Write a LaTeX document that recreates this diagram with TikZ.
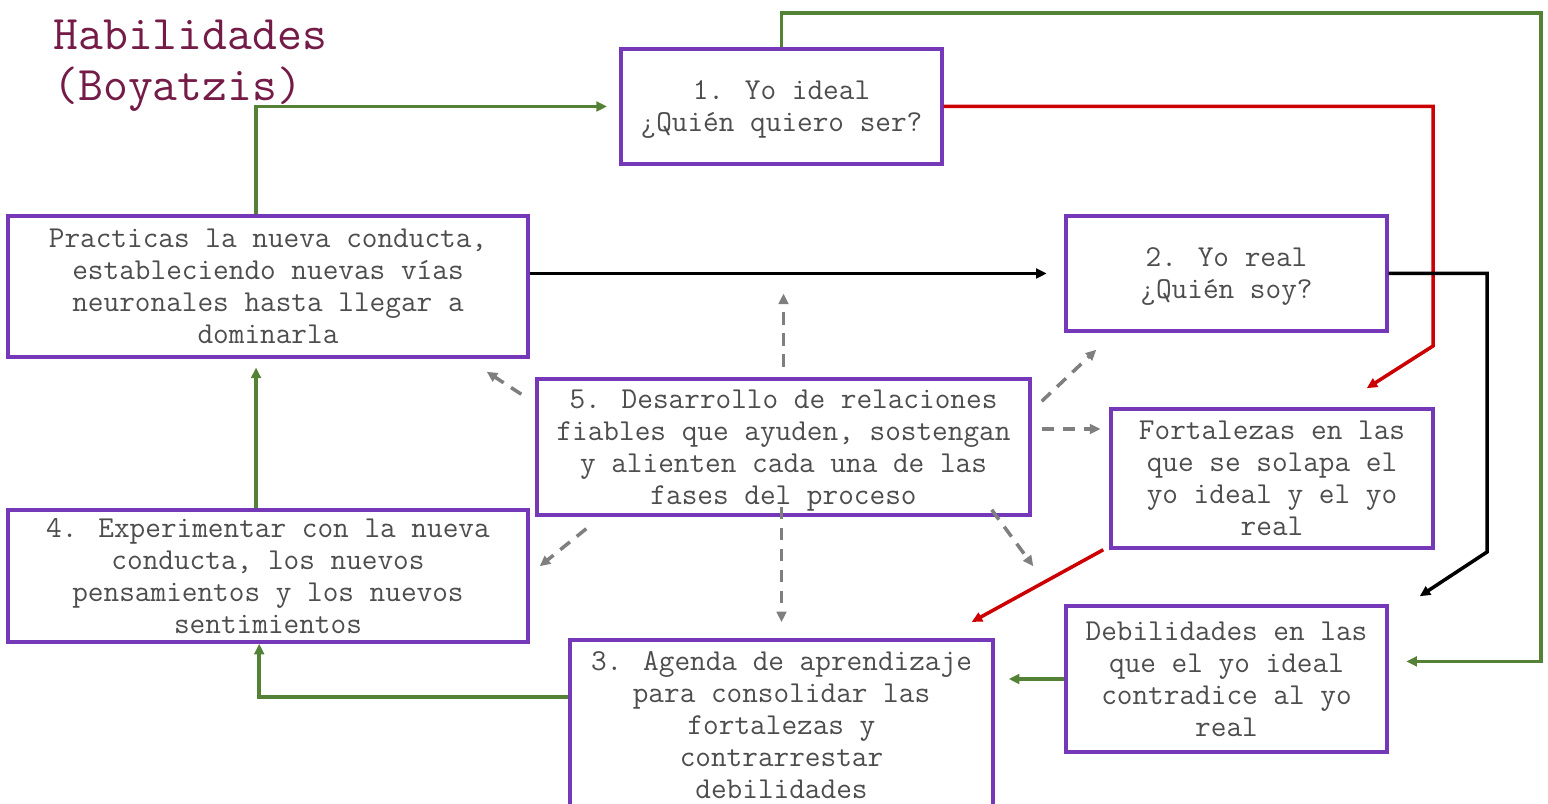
\documentclass[tikz,border=0pt]{standalone}
\usepackage{fontspec}
\usetikzlibrary{arrows.meta,calc}
\definecolor{morado}{HTML}{7538B8}
\definecolor{verdeosc}{HTML}{538135}
\definecolor{rojo}{HTML}{CC0000}
\definecolor{gris}{HTML}{7F7F7F}
\definecolor{tinta}{HTML}{4D4D4D}
\definecolor{ciruela}{HTML}{741B47}
\tikzset{
	caja/.style={draw=morado, line width=2pt, align=center, inner sep=0pt, text=tinta, text depth=0pt,
		font=\ttfamily\fontsize{17.3}{18.2}\selectfont},
	punta/.style={-{Triangle[length=6pt,width=5.5pt]}},
	verdeflecha/.style={draw=verdeosc, line width=2pt, punta},
	rojaflecha/.style={draw=rojo, line width=2pt, punta},
	negraflecha/.style={draw=black, line width=2pt, punta},
	punteada/.style={draw=gris, line width=2pt, dash pattern=on 7pt off 5pt, punta}
}
\begin{document}
\begin{tikzpicture}[x=0.02cm, y=0.02cm]
			\useasboundingbox (0,0) rectangle (1548,804);
			\node [anchor=north west, inner sep=0pt, align=left, text=ciruela,
				font=\ttfamily\fontsize{27.5}{29}\selectfont] (titulo) at (53,784) {Habilidades\\(Boyatzis)};
			\node [caja, minimum width=6.42cm, minimum height=2.3cm] (ideal) at (781.5,697.5) {1. Yo ideal\\¿Quién quiero ser?};
			\node [caja, minimum width=10.4cm, minimum height=2.82cm] (practica) at (268,517.5)
				{Practicas la nueva conducta,\\estableciendo nuevas vías\\neuronales hasta llegar a\\dominarla};
			\node [caja, minimum width=6.42cm, minimum height=2.3cm] (real) at (1226.5,530.5) {2. Yo real\\¿Quién soy?};
			\node [caja, minimum width=9.86cm, minimum height=2.72cm] (apoyo) at (783.5,357)
				{5. Desarrollo de relaciones\\fiables que ayuden, sostengan\\y alienten cada una de las\\fases del proceso};
			\node [caja, minimum width=6.44cm, minimum height=2.78cm] (fortaleza) at (1272,325.5)
				{Fortalezas en las\\que se solapa el\\yo ideal y el yo\\real};
			\node [caja, minimum width=10.4cm, minimum height=2.64cm] (experimento) at (268,228)
				{4. Experimentar con la nueva\\conducta, los nuevos\\pensamientos y los nuevos\\sentimientos};
			\node [caja, anchor=north, minimum width=8.46cm, inner ysep=6.5pt] (agenda) at (781.5,166)
				{3. Agenda de aprendizaje\\para consolidar las\\fortalezas y\\contrarrestar\\debilidades};
			\node [caja, minimum width=6.42cm, minimum height=2.92cm] (debilidad) at (1226.5,125)
				{Debilidades en las\\que el yo ideal\\contradice al yo\\real};
			\coordinate (giroV) at (1541,791);
			\coordinate (giroR) at (1433,458);
			\coordinate (giroN) at (1487,252);
			\coordinate (salidaA) at ($(agenda.north west)+(0,-59)$);
			\coordinate (salida5) at ($(apoyo.east)+(10,18)$);
			\draw [verdeflecha, shorten >=7pt] ([xshift=-6.8pt]practica.north) |- (ideal.west);
			\draw [verdeflecha, shorten >=10pt] (ideal.north) |- (giroV) |- ([yshift=10pt]debilidad.east);
			\draw [rojaflecha] (ideal.east) -| (giroR) -- ($(fortaleza.north east)+(-68,19)$);
			\draw [negraflecha, shorten >=10pt] (practica.east |- real.west) -- (real.west);
			\draw [negraflecha] (real.east) -| (giroN) -- ($(debilidad.north east)+(31,8)$);
			\draw [rojaflecha] ($(fortaleza.south west)+(-6,0)$) -- ($(agenda.north east)+(-23,16)$);
			\draw [verdeflecha, shorten >=8pt] (debilidad.west) -- (debilidad.west -| agenda.east);
			\draw [verdeflecha] (salidaA) -| ([xshift=-5pt]experimento.south);
			\draw [verdeflecha, shorten >=5pt] ([xshift=-6.8pt]experimento.north) -- ([xshift=-6.8pt]practica.south);
			\draw [punteada, shorten <=6pt, shorten >=4pt] (apoyo.north) -- (apoyo.north |- practica.east);
			\draw [punteada] ($(apoyo.north west)+(-14,-17)$) -- ($(practica.south east)+(-43,-13)$);
			\draw [punteada] ($(apoyo.north east)+(10,-24)$) -- ($(real.south west)+(32,-17)$);
			\draw [punteada, shorten >=5pt] (salida5) -- (salida5 -| fortaleza.west);
			\draw [punteada] ($(apoyo.south west)+(51,-12)$) -- ($(experimento.north east)+(10,-58)$);
			\draw [punteada, shorten >=9pt] ($(apoyo.south)+(-2,10)$) -- ($(apoyo.south |- agenda.north)+(-2,0)$);
			\draw [punteada] ($(apoyo.south east)+(-40,7)$) -- ($(debilidad.north west)+(-31,38)$);
		\end{tikzpicture}
\end{document}
